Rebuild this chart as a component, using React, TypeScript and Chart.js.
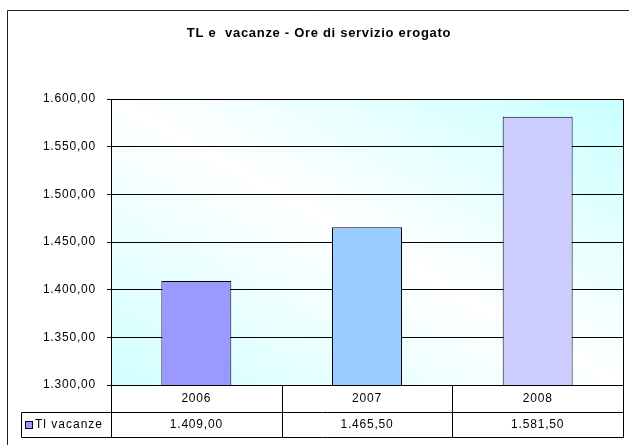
import React, { useEffect, useRef } from 'react';
import { Chart, registerables } from 'chart.js';

Chart.register(...registerables);

const chartTitle = 'TL e  vacanze - Ore di servizio erogato';
const seriesName = 'Tl vacanze';
const categories = ['2006', '2007', '2008'];
const values = [1409.0, 1465.5, 1581.5];
const barColors = ['#9999FF', '#99CCFF', '#CCCCFF'];
const yMin = 1300;
const yMax = 1600;
const yStep = 50;

const FONT = '"Liberation Sans", Arial, sans-serif';

function fmt(v: number): string {
  const fixed = v.toFixed(2);
  const parts = fixed.split('.');
  const intPart = parts[0].replace(/\B(?=(\d{3})+(?!\d))/g, '.');
  return intPart + ',' + parts[1];
}

function setSpacing(ctx: any, s: string) {
  try { ctx.letterSpacing = s; } catch (e) { /* ignore */ }
}

const decor = {
  id: 'decor',
  beforeDraw(chart: any) {
    const ctx = chart.ctx;
    const a = chart.chartArea;
    ctx.save();
    ctx.fillStyle = '#ffffff';
    ctx.fillRect(0, 0, chart.width, chart.height);
    // outer frame
    ctx.strokeStyle = '#222222';
    ctx.lineWidth = 1;
    ctx.beginPath();
    ctx.moveTo(7.5, chart.height);
    ctx.lineTo(7.5, 10.5);
    ctx.lineTo(chart.width, 10.5);
    ctx.stroke();
    // plot background gradient (white along TL-BR diagonal, cyan at TR and BL)
    const cx = (a.left + a.right) / 2;
    const cy = (a.top + a.bottom) / 2;
    const dx = a.width;
    const dy = a.height;
    const len = Math.sqrt(dx * dx + dy * dy);
    const ux = dy / len;
    const uy = -dx / len;
    const k = (a.width / 2) * ux + (-a.height / 2) * uy;
    const g = ctx.createLinearGradient(cx - k * ux, cy - k * uy, cx + k * ux, cy + k * uy);
    g.addColorStop(0, '#D2FFFF');
    g.addColorStop(0.5, '#FFFFFF');
    g.addColorStop(1, '#C8FFFF');
    ctx.fillStyle = g;
    ctx.fillRect(a.left, a.top, a.width, a.height);
    // title
    ctx.fillStyle = '#000000';
    ctx.font = `bold 13px ${FONT}`;
    ctx.textAlign = 'center';
    ctx.textBaseline = 'middle';
    setSpacing(ctx, '0.7px');
    ctx.fillText(chartTitle, 319, 33);
    ctx.restore();
    // wider spacing for the axis tick labels drawn next
    setSpacing(ctx, '0.8px');
  },
  afterDraw(chart: any) {
    const ctx = chart.ctx;
    const a = chart.chartArea;
    const xs = chart.scales.x;
    ctx.save();
    ctx.strokeStyle = '#000000';
    ctx.lineWidth = 1;
    // plot frame
    ctx.strokeRect(Math.round(a.left) + 0.5, Math.round(a.top) + 0.5, Math.round(a.width), Math.round(a.height));
    // data table
    const top = Math.round(a.bottom) + 0.5;
    const r1 = top + 27;
    const r2 = top + 52;
    const legL = 21.5;
    const L = Math.round(a.left) + 0.5;
    const R = Math.round(a.right) + 0.5;
    ctx.beginPath();
    ctx.moveTo(legL, r1); ctx.lineTo(R, r1);
    ctx.moveTo(legL, r2); ctx.lineTo(R, r2);
    ctx.moveTo(legL, r1); ctx.lineTo(legL, r2);
    ctx.moveTo(L, top); ctx.lineTo(L, r2);
    ctx.moveTo(R, top); ctx.lineTo(R, r2);
    for (let i = 1; i < categories.length; i++) {
      const bx = Math.round((xs.getPixelForValue(i - 1) + xs.getPixelForValue(i)) / 2) + 0.5;
      ctx.moveTo(bx, top); ctx.lineTo(bx, r2);
    }
    ctx.stroke();
    // values row
    ctx.fillStyle = '#000000';
    ctx.font = `12px ${FONT}`;
    ctx.textAlign = 'center';
    ctx.textBaseline = 'middle';
    setSpacing(ctx, '0.8px');
    const rowMid = (r1 + r2) / 2;
    values.forEach((v, i) => {
      ctx.fillText(fmt(v), xs.getPixelForValue(i), rowMid);
    });
    // legend key
    ctx.fillStyle = barColors[0];
    ctx.fillRect(26, 422, 6, 6);
    ctx.strokeRect(25.5, 421.5, 7, 7);
    ctx.fillStyle = '#000000';
    ctx.textAlign = 'left';
    setSpacing(ctx, '1px');
    ctx.fillText(seriesName, 35, rowMid);
    ctx.restore();
    setSpacing(ctx, '0px');
  },
};

export default function App() {
  const ref = useRef<HTMLCanvasElement>(null);
  useEffect(() => {
    if (!ref.current) return;
    const chart = new Chart(ref.current, {
      type: 'bar',
      data: {
        labels: categories,
        datasets: [
          {
            label: seriesName,
            data: values,
            backgroundColor: barColors,
            borderColor: '#000000',
            borderWidth: 1,
            categoryPercentage: 1,
            barPercentage: 0.41,
          },
        ],
      },
      options: {
        responsive: false,
        animation: false,
        devicePixelRatio: 1,
        layout: { padding: { top: 99, left: 0, right: 6, bottom: 8 } },
        plugins: {
          legend: { display: false },
          tooltip: { enabled: false },
          title: { display: false },
        },
        scales: {
          x: {
            offset: true,
            grid: { display: false, drawTicks: false },
            border: { display: false },
            ticks: { color: '#000000', font: { family: FONT, size: 12 }, padding: 6 },
            afterFit: (s: any) => { s.height = 52; },
          },
          y: {
            min: yMin,
            max: yMax,
            grid: { color: '#000000', lineWidth: 1, tickLength: 4 },
            border: { display: false },
            ticks: {
              stepSize: yStep,
              color: '#000000',
              font: { family: FONT, size: 12 },
              padding: 11,
              callback: (v: any) => fmt(Number(v)),
            },
            afterFit: (s: any) => { s.width = 111; },
          },
        },
      },
      plugins: [decor],
    });
    return () => chart.destroy();
  }, []);
  return (
    <div style={{ position: 'fixed', left: 0, top: 0, width: 629, height: 445 }}>
      <canvas ref={ref} width={629} height={445} style={{ display: 'block' }} />
    </div>
  );
}
